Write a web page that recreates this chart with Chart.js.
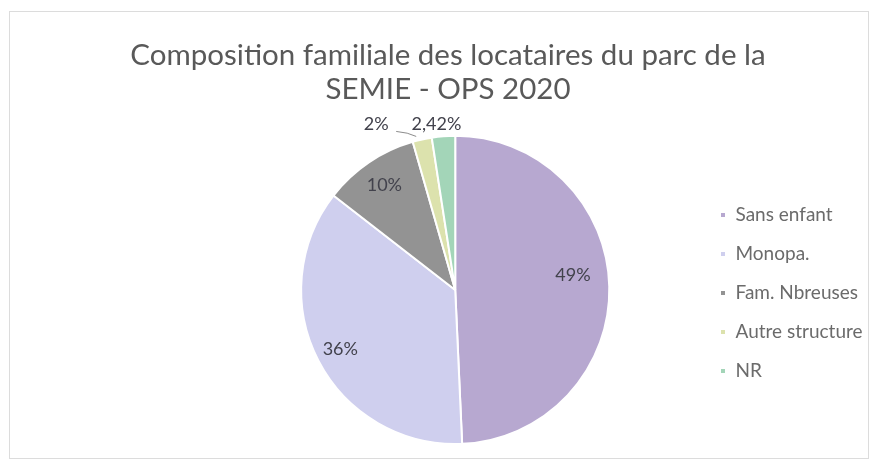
<!DOCTYPE html>
<html>
<head>
<meta charset="utf-8">
<script src="https://cdn.jsdelivr.net/npm/chart.js@4/dist/chart.umd.min.js"></script>
<style>
  html, body { margin: 0; padding: 0; background: #fff; }
  #wrap { width: 876px; height: 468px; position: relative; }
</style>
</head>
<body>
<div id="wrap"><canvas id="myChart" width="876" height="468"></canvas></div>
<script>
// chart data
var categories = ["Sans enfant", "Monopa.", "Fam. Nbreuses", "Autre structure", "NR"];
var values = [49, 36, 10, 2, 2.42];
var valueLabels = ["49%", "36%", "10%", "2%", "2,42%"];
var sliceColors = ["#b7a8d0", "#cfcfee", "#939393", "#dce2ad", "#a3d5b8"];

// where each label sits (fraction of radius), outside ones get an offset
var labelSpots = [
    { r: 0.77, turn: -0.1 },
    { r: 0.84 },
    { r: 0.82 },
    { r: 1.0, dx: -46, dy: -15, line: true },
    { r: 1.0, dx: -7, dy: -12 }
];

var FONT = 'Lato, "Open Sans", sans-serif';

// frame + white background, and placing title / legend like the original
const framePlugin = {
    id: 'frame',
    afterLayout(chart) {
        // title centred on the whole frame, not only over the pie
        const t = chart.titleBlock;
        const w = chart.width - 20;
        t.left = 448 - w / 2;
        t.right = 448 + w / 2;
        // legend column at the right, vertically around the pie centre
        const lg = chart.legend;
        const pad = lg.options.labels.padding;
        const fs = lg.options.labels.font.size;
        const shift = 720 - (lg.left + pad);
        lg.left += shift;
        lg.right += shift;
        lg.top = 215 - pad - fs / 2;
        lg.bottom = chart.height;
    },
    beforeDraw(chart) {
        const ctx = chart.ctx;
        ctx.save();
        ctx.fillStyle = '#ffffff';
        ctx.fillRect(0, 0, chart.width, chart.height);
        ctx.strokeStyle = '#dcdcdc';
        ctx.lineWidth = 1;
        ctx.strokeRect(9.5, 11.5, 859, 447);
        ctx.restore();
    }
};

// percentage labels on the slices
const sliceLabels = {
    id: 'sliceLabels',
    afterDatasetsDraw(chart) {
        const ctx = chart.ctx;
        const arcs = chart.getDatasetMeta(0).data;
        ctx.save();
        ctx.font = '18px ' + FONT;
        ctx.fillStyle = '#42424c';
        ctx.textAlign = 'center';
        ctx.textBaseline = 'middle';
        arcs.forEach((arc, i) => {
            const p = arc.getProps(['x', 'y', 'startAngle', 'endAngle', 'outerRadius'], true);
            const spot = labelSpots[i];
            const mid = (p.startAngle + p.endAngle) / 2 + (spot.turn || 0);
            const ex = p.x + Math.cos(mid) * p.outerRadius * spot.r;
            const ey = p.y + Math.sin(mid) * p.outerRadius * spot.r;
            const lx = ex + (spot.dx || 0);
            const ly = ey + (spot.dy || 0);
            if (spot.line) {
                ctx.strokeStyle = '#8c8c8c';
                ctx.lineWidth = 1;
                ctx.beginPath();
                ctx.moveTo(lx + 20, ly + 7);
                ctx.quadraticCurveTo(lx + 32, ly + 8, ex - 6, ey - 3);
                ctx.stroke();
            }
            ctx.fillText(valueLabels[i], lx, ly);
        });
        ctx.restore();
    }
};

new Chart("myChart", {
    type: "pie",
    data: {
        labels: categories,
        datasets: [{
            data: values,
            backgroundColor: sliceColors,
            borderColor: '#ffffff',
            borderWidth: 2
        }]
    },
    options: {
        responsive: false,
        animation: false,
        layout: {
            padding: { left: 207, right: 0, top: 0, bottom: 23 }
        },
        plugins: {
            title: {
                display: true,
                text: ["Composition familiale des locataires du parc de la", "SEMIE - OPS 2020"],
                color: '#595959',
                font: { family: FONT, size: 29.5, weight: 'normal', lineHeight: 1.15 },
                padding: { top: 39, bottom: 28 }
            },
            legend: {
                position: 'right',
                align: 'start',
                labels: {
                    color: '#6b6b6b',
                    font: { family: FONT, size: 19 },
                    boxWidth: 6,
                    boxHeight: 6,
                    padding: 20
                }
            },
            tooltip: { enabled: false }
        }
    },
    plugins: [framePlugin, sliceLabels]
});
</script>
</body>
</html>
